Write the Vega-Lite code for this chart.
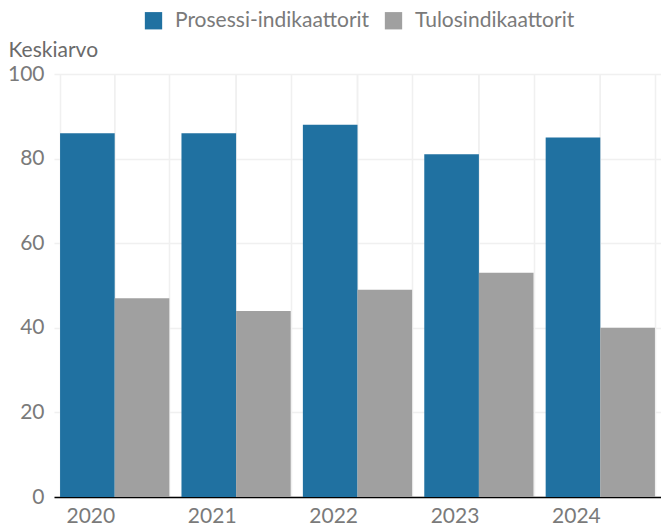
{
  "$schema": "https://vega.github.io/schema/vega-lite/v6.json",
  "width": 607,
  "height": 423,
  "autosize": {"type": "none"},
  "padding": {"left": 54, "top": 74, "right": 0, "bottom": 30},
  "background": "white",
  "config": {
    "font": "Lato",
    "view": {"stroke": null}
  },
  "data": {
    "values": [
      {"vuosi": "2020", "sarja": "Prosessi-indikaattorit", "arvo": 86},
      {"vuosi": "2020", "sarja": "Tulosindikaattorit", "arvo": 47},
      {"vuosi": "2021", "sarja": "Prosessi-indikaattorit", "arvo": 86},
      {"vuosi": "2021", "sarja": "Tulosindikaattorit", "arvo": 44},
      {"vuosi": "2022", "sarja": "Prosessi-indikaattorit", "arvo": 88},
      {"vuosi": "2022", "sarja": "Tulosindikaattorit", "arvo": 49},
      {"vuosi": "2023", "sarja": "Prosessi-indikaattorit", "arvo": 81},
      {"vuosi": "2023", "sarja": "Tulosindikaattorit", "arvo": 53},
      {"vuosi": "2024", "sarja": "Prosessi-indikaattorit", "arvo": 85},
      {"vuosi": "2024", "sarja": "Tulosindikaattorit", "arvo": 40}
    ]
  },
  "layer": [
    {
      "mark": {"type": "rule", "color": "#f0f0f0", "strokeWidth": 1.5},
      "encoding": {
        "x": {"field": "vuosi", "type": "nominal"}
      }
    },
    {
      "mark": {"type": "bar"},
      "encoding": {
        "x": {
          "field": "vuosi",
          "type": "nominal",
          "scale": {"paddingInner": 0.1, "paddingOuter": 0.05},
          "axis": {
            "title": null,
            "labelAngle": 0,
            "labelFontSize": 21,
            "labelColor": "#7a7a7a",
            "labelPadding": 8,
            "labelBaseline": "top",
            "ticks": false,
            "domain": true,
            "domainColor": "#000000",
            "domainWidth": 1.5,
            "grid": true,
            "tickBand": "extent",
            "gridColor": "#f0f0f0",
            "gridWidth": 1.5
          }
        },
        "xOffset": {
          "field": "sarja",
          "type": "nominal",
          "scale": {"paddingInner": 0, "paddingOuter": 0}
        },
        "y": {
          "field": "arvo",
          "type": "quantitative",
          "scale": {"domain": [0, 100]},
          "axis": {
            "values": [0, 20, 40, 60, 80, 100],
            "title": "Keskiarvo",
            "titleAngle": 0,
            "titleAlign": "left",
            "titleBaseline": "middle",
            "titleX": -46,
            "titleY": -24,
            "titleFontSize": 21,
            "titleFontWeight": "normal",
            "titleColor": "#6a6a6a",
            "labelFontSize": 21,
            "labelColor": "#7a7a7a",
            "labelPadding": 10,
            "ticks": false,
            "domain": false,
            "grid": true,
            "gridColor": "#f0f0f0",
            "gridWidth": 1.5
          }
        },
        "color": {
          "field": "sarja",
          "type": "nominal",
          "scale": {
            "domain": ["Prosessi-indikaattorit", "Tulosindikaattorit"],
            "range": ["#2071a1", "#a0a0a0"]
          },
          "legend": {
            "title": null,
            "orient": "none",
            "direction": "horizontal",
            "legendX": 89,
            "legendY": -64,
            "symbolType": "square",
            "symbolSize": 300,
            "symbolStrokeWidth": 0,
            "labelFontSize": 21,
            "labelLimit": 0,
            "labelColor": "#7a7a7a",
            "labelOffset": 11,
            "columnPadding": 13
          }
        }
      }
    }
  ]
}
